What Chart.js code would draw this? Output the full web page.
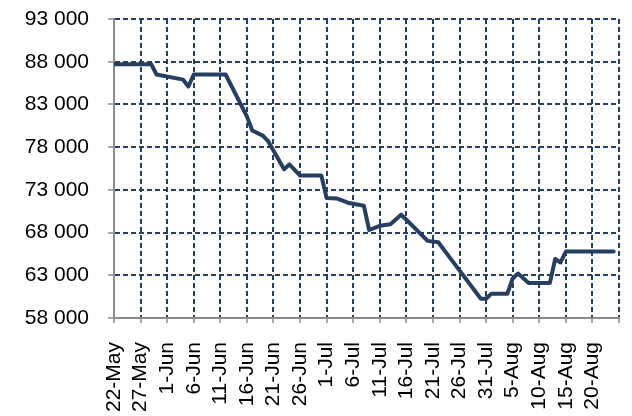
<!DOCTYPE html>
<html>
<head>
<meta charset="utf-8">
<script src="https://cdn.jsdelivr.net/npm/chart.js@4"></script>
<style>
  html, body { margin: 0; padding: 0; background: #fff; }
  #wrap { width: 632px; height: 416px; }
</style>
</head>
<body>
<div id="wrap"><canvas id="chart" width="632" height="416"></canvas></div>
<script>
// Dates where the line bends, and the values there
const pointDates = ['22-May', '29-May', '30-May', '4-Jun', '5-Jun', '6-Jun', '12-Jun', '16-Jun',
    '17-Jun', '19-Jun', '20-Jun', '23-Jun', '24-Jun', '26-Jun', '30-Jun', '1-Jul', '3-Jul',
    '5-Jul', '8-Jul', '9-Jul', '11-Jul', '13-Jul', '15-Jul', '16-Jul', '20-Jul', '22-Jul',
    '25-Jul', '30-Jul', '31-Jul', '1-Aug', '4-Aug', '5-Aug', '6-Aug', '8-Aug', '12-Aug',
    '13-Aug', '14-Aug', '15-Aug', '24-Aug'];
const pointValues = [87700, 87700, 86500, 85900, 85100, 86500, 86500, 81600,
    79950, 79350, 78700, 75400, 75990, 74680, 74680, 72050, 71980,
    71500, 71150, 68300, 68790, 68980, 70090, 69500, 67030, 66860,
    64390, 60260, 60260, 60850, 60850, 62620, 63210, 62110, 62110,
    64900, 64500, 65770, 65770];

// Axis tick labels, every 5 days from 22-May (last one left blank)
const tickLabels = ['22-May', '27-May', '1-Jun', '6-Jun', '11-Jun', '16-Jun', '21-Jun', '26-Jun',
    '1-Jul', '6-Jul', '11-Jul', '16-Jul', '21-Jul', '26-Jul', '31-Jul', '5-Aug', '10-Aug',
    '15-Aug', '20-Aug', ''];

const monthIndex = { May: 4, Jun: 5, Jul: 6, Aug: 7 };

// Days since 22-May
function dayOffset(label) {
    const parts = label.split('-');
    const t = Date.UTC(2013, monthIndex[parts[1]], Number(parts[0]));
    return Math.round((t - Date.UTC(2013, 4, 22)) / 86400000);
}

function formatThousands(v) {
    return String(v).replace(/\B(?=(\d{3})+(?!\d))/g, ' ');
}

const fontFamily = "'Liberation Sans', Arial, sans-serif";
const gridColor = '#243f60';
const axisColor = '#8c8c8c';

const ctx = document.getElementById('chart').getContext('2d');
const chart = new Chart(ctx, {
    type: 'line',
    data: {
        datasets: [{
            data: pointDates.map((d, i) => ({ x: dayOffset(d), y: pointValues[i] })),
            borderColor: '#243f60',
            borderWidth: 4,
            borderJoinStyle: 'round',
            borderCapStyle: 'round',
            pointRadius: 0,
            tension: 0,
            fill: false
        }]
    },
    options: {
        responsive: false,
        animation: false,
        layout: { padding: { top: 19, right: 13, bottom: 0, left: 0 } },
        plugins: {
            legend: { display: false },
            tooltip: { enabled: false }
        },
        scales: {
            x: {
                type: 'linear',
                min: 0,
                max: (tickLabels.length - 1) * 5,
                afterFit: scale => {
                    scale.height = 98;
                    scale.paddingLeft = 0;
                    scale.paddingRight = 0;
                },
                ticks: {
                    stepSize: 5,
                    autoSkip: false,
                    maxRotation: 90,
                    minRotation: 90,
                    padding: 19,
                    color: '#000',
                    font: { family: fontFamily, size: 21 },
                    callback: value => tickLabels[value / 5]
                },
                grid: {
                    color: gridColor,
                    lineWidth: 2,
                    tickLength: 5,
                    tickColor: axisColor,
                    tickWidth: 1.5,
                    tickBorderDash: [0, 0]
                },
                border: { color: axisColor, width: 2, dash: [5, 3] }
            },
            y: {
                min: 58000,
                max: 93000,
                afterFit: scale => {
                    scale.width = 114;
                    scale.paddingTop = 0;
                    scale.paddingBottom = 0;
                },
                ticks: {
                    stepSize: 5000,
                    padding: 19,
                    color: '#000',
                    font: { family: fontFamily, size: 21 },
                    callback: value => formatThousands(value)
                },
                grid: {
                    color: gridColor,
                    lineWidth: 2,
                    tickLength: 6,
                    tickColor: axisColor,
                    tickWidth: 1.5,
                    tickBorderDash: [0, 0]
                },
                border: { color: axisColor, width: 2, dash: [5, 3] }
            }
        }
    }
});
</script>
</body>
</html>
